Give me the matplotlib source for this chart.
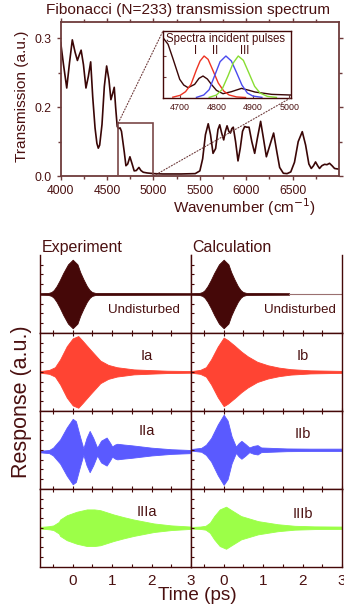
import numpy as np
import matplotlib
matplotlib.use('Agg')
import matplotlib.pyplot as plt
from matplotlib.patches import Rectangle, ConnectionPatch
from matplotlib.ticker import FixedLocator

plt.rcParams['font.family'] = ['Liberation Sans', 'DejaVu Sans']

TXT = '#4a1010'
SPINE = '#6e3b3b'
DARK = '#450808'
RED = '#ff4433'
BLUE = '#5a5aff'
GREEN = '#9cff48'

# transmission spectrum (wavenumber cm-1, transmission a.u.)
wn = [4000, 4030, 4065, 4095, 4125, 4155, 4180, 4200, 4220, 4245, 4272, 4298, 4323,
      4345, 4370, 4390, 4405, 4420, 4445, 4470, 4495, 4520, 4541, 4560, 4577, 4592,
      4609, 4625, 4640, 4655, 4670, 4685, 4703, 4722, 4746, 4770, 4792, 4815, 4843,
      4865, 4890, 4930, 5000, 5100, 5300, 5450, 5500, 5530, 5560, 5590, 5615, 5642,
      5670, 5695, 5714, 5735, 5757, 5775, 5793, 5812, 5829, 5845, 5860, 5885, 5911,
      5935, 5960, 5983, 6005, 6030, 6060, 6091, 6120, 6155, 6185, 6217, 6255, 6295,
      6330, 6360, 6400, 6440, 6480, 6520, 6560, 6604, 6640, 6675, 6701, 6725, 6747,
      6770, 6790, 6815, 6844, 6870, 6898, 6925, 6952, 6975, 7000]
trans = [0.294, 0.262, 0.228, 0.265, 0.298, 0.280, 0.268, 0.276, 0.283, 0.262, 0.228,
         0.245, 0.266, 0.215, 0.140, 0.095, 0.081, 0.090, 0.150, 0.230, 0.260, 0.240,
         0.211, 0.220, 0.229, 0.200, 0.144, 0.138, 0.140, 0.130, 0.100, 0.070, 0.030,
         0.035, 0.056, 0.035, 0.015, 0.016, 0.025, 0.016, 0.011, 0.009, 0.007, 0.006,
         0.006, 0.007, 0.015, 0.050, 0.120, 0.152, 0.120, 0.066, 0.080, 0.135, 0.149,
         0.125, 0.105, 0.130, 0.146, 0.130, 0.125, 0.138, 0.142, 0.100, 0.044, 0.080,
         0.130, 0.144, 0.142, 0.142, 0.100, 0.066, 0.110, 0.159, 0.110, 0.056, 0.090,
         0.125, 0.070, 0.025, 0.008, 0.007, 0.012, 0.040, 0.100, 0.129, 0.090, 0.035,
         0.022, 0.030, 0.041, 0.030, 0.022, 0.030, 0.034, 0.033, 0.037, 0.030, 0.022,
         0.021, 0.020]

# inset: spectra of incident pulses (normalised)
in_wn = [4653, 4667, 4681, 4699, 4710, 4722, 4740, 4752, 4763, 4775, 4786, 4800, 4818,
         4841, 4869, 4890, 4906, 4952, 5005]
in_tr = [0.90, 0.80, 0.575, 0.275, 0.19, 0.15, 0.20, 0.29, 0.325, 0.28, 0.20, 0.11, 0.06,
         0.09, 0.14, 0.11, 0.085, 0.05, 0.04]
p1_wn = [4680, 4700, 4715, 4730, 4745, 4755, 4766, 4777, 4791, 4805, 4820, 4835, 4855, 4880]
p1 = [0.008, 0.035, 0.09, 0.20, 0.42, 0.55, 0.625, 0.575, 0.40, 0.22, 0.10, 0.04, 0.012, 0.003]
p2_wn = [4745, 4765, 4780, 4795, 4810, 4826, 4841, 4855, 4870, 4885, 4900, 4925]
p2 = [0.005, 0.04, 0.12, 0.33, 0.54, 0.625, 0.55, 0.38, 0.19, 0.07, 0.025, 0.005]
p3_wn = [4780, 4800, 4815, 4832, 4846, 4860, 4874, 4890, 4905, 4920, 4940, 4965]
p3 = [0.005, 0.04, 0.12, 0.33, 0.52, 0.625, 0.56, 0.36, 0.17, 0.07, 0.02, 0.004]

# time-domain envelopes (ps, amplitude)
t_und = [-0.83, -0.62, -0.54, -0.48, -0.41, -0.33, -0.24, -0.12, 0.0, 0.12, 0.19, 0.27,
         0.36, 0.43, 0.49, 0.58, 3.0]
a_und = [0.02, 0.025, 0.05, 0.10, 0.20, 0.35, 0.54, 0.76, 0.88, 0.76, 0.56, 0.38, 0.20,
         0.10, 0.05, 0.025, 0.02]
t_und_calc = [-0.83, -0.62, -0.54, -0.48, -0.41, -0.33, -0.24, -0.12, 0.0, 0.12, 0.19, 0.27,
              0.36, 0.43, 0.49, 0.58, 1.66]
a_und_calc = [0.02, 0.025, 0.05, 0.10, 0.20, 0.35, 0.54, 0.76, 0.88, 0.76, 0.56, 0.38, 0.20,
              0.10, 0.05, 0.025, 0.02]
t_ia = [-0.83, -0.6, -0.45, -0.32, -0.15, 0.0, 0.14, 0.25, 0.44, 0.7, 0.9, 1.12, 1.55, 2.0, 2.4, 3.0]
a_ia = [0.02, 0.05, 0.12, 0.32, 0.66, 0.86, 0.92, 0.80, 0.58, 0.29, 0.18, 0.12, 0.064, 0.045, 0.03, 0.022]
t_ib = [-0.83, -0.6, -0.45, -0.32, -0.15, 0.0, 0.1, 0.27, 0.45, 0.61, 0.85, 1.12, 1.4, 1.7, 2.2, 3.0]
a_ib = [0.02, 0.05, 0.12, 0.32, 0.65, 0.88, 0.82, 0.68, 0.52, 0.40, 0.26, 0.17, 0.11, 0.07, 0.04, 0.025]
t_iia = [-0.83, -0.6, -0.5, -0.32, -0.15, 0.0, 0.08, 0.18, 0.27, 0.35, 0.43, 0.52, 0.62, 0.72,
         0.86, 0.95, 1.0, 1.07, 1.13, 1.3, 1.5, 2.0, 2.5, 3.0]
a_iia = [0.02, 0.04, 0.10, 0.31, 0.62, 0.84, 0.78, 0.40, 0.08, 0.35, 0.53, 0.35, 0.10, 0.28,
         0.36, 0.22, 0.13, 0.18, 0.20, 0.18, 0.16, 0.10, 0.06, 0.04]
t_iib = [-0.83, -0.57, -0.45, -0.32, -0.15, 0.0, 0.1, 0.2, 0.31, 0.38, 0.45, 0.55, 0.65, 0.75,
         0.86, 0.95, 1.2, 1.6, 2.2, 3.0]
a_iib = [0.02, 0.05, 0.13, 0.30, 0.65, 0.90, 0.75, 0.35, 0.08, 0.17, 0.23, 0.15, 0.06, 0.10,
         0.12, 0.06, 0.05, 0.035, 0.03, 0.03]
t_iiia = [-0.83, -0.6, -0.49, -0.35, -0.32, -0.15, 0.1, 0.36, 0.55, 0.7, 1.04, 1.3, 1.55, 2.06, 2.5, 3.0]
a_iiia = [0.02, 0.04, 0.06, 0.15, 0.21, 0.32, 0.41, 0.47, 0.47, 0.45, 0.34, 0.27, 0.21, 0.11, 0.06, 0.03]
t_iiib = [-0.83, -0.6, -0.46, -0.35, -0.24, -0.1, 0.06, 0.2, 0.44, 0.87, 1.37, 1.8, 2.3, 3.0]
a_iiib = [0.02, 0.03, 0.05, 0.13, 0.30, 0.47, 0.54, 0.45, 0.30, 0.17, 0.09, 0.05, 0.035, 0.03]

fig = plt.figure(figsize=(3.44, 6.07), dpi=100)

# ---------------- top: transmission spectrum ----------------
ax = fig.add_axes([0.1765, 0.710, 0.809, 0.2538])
fwd = lambda y: np.where(y <= 0.2, y / 2, y - 0.1)
inv = lambda u: np.where(u <= 0.1, 2 * u, u + 0.1)
ax.set_yscale('function', functions=(fwd, inv))
ax.plot(wn, trans, color='#3a0606', lw=1.2, solid_joinstyle='round')
ax.set_xlim(4000, 7000)
ax.set_ylim(0, 0.324)
ax.set_xticks([4000, 4500, 5000, 5500, 6000, 6500])
ax.xaxis.set_minor_locator(FixedLocator([4250, 4750, 5250, 5750, 6250, 6750]))
ax.set_yticks([0.0, 0.2, 0.3])
ax.set_yticklabels(['0.0', '0.2', '0.3'])
ax.yaxis.set_minor_locator(FixedLocator([0.1, 0.25]))
ax.tick_params(which='both', direction='out', color=SPINE, labelcolor=TXT, labelsize=8.7,
               length=3, width=1, top=True, right=True)
ax.tick_params(which='minor', length=2)
for s in ax.spines.values():
    s.set_color(SPINE)
    s.set_linewidth(1.3)
fig.text(187.5 / 344, 1 - 10 / 607, 'Fibonacci (N=233) transmission spectrum', ha='center',
         va='center', fontsize=11.1, color=TXT)
fig.text(22 / 344, 1 - 96 / 607, 'Transmission (a.u.)', rotation=90, ha='center', va='center',
         fontsize=11.1, color=TXT)
fig.text(244 / 344, 1 - 207 / 607, 'Wavenumber (cm$^{-1}$)', ha='center', va='center',
         fontsize=11, color=TXT)

box = Rectangle((4620, 0), 380, 0.154, fill=False, ec='#7a4848', lw=1.2, zorder=3)
ax.add_patch(box)

axin = fig.add_axes([163 / 344, 1 - 97.7 / 607, 128 / 344, 66.7 / 607])
axin.plot(in_wn, in_tr, color='#3a0606', lw=1)
axin.plot(p1_wn, p1, color='#ee3322', lw=1)
axin.plot(p2_wn, p2, color='#4a4aee', lw=1)
axin.plot(p3_wn, p3, color='#88dd33', lw=1)
axin.set_xlim(4653, 5005)
axin.set_ylim(0, 1)
axin.set_xticks([4700, 4800, 4900, 5000])
axin.set_yticks([0.31, 0.62])
axin.set_yticklabels([])
axin.tick_params(direction='in', length=2, color=SPINE, labelcolor=TXT, labelsize=6.4, pad=3.5)
for s in axin.spines.values():
    s.set_color(DARK)
    s.set_linewidth(1)
axin.text(0.492, 0.876, 'Spectra incident pulses', transform=axin.transAxes, ha='center',
          va='center', fontsize=8.3, color=TXT)
for lab, xf in [('I', 0.258), ('II', 0.404), ('III', 0.64)]:
    axin.text(xf, 0.70, lab, transform=axin.transAxes, ha='center', va='center',
              fontsize=8.3, color=TXT)

for xyA, xyB in [((4620, 0.154), (0, 1)), ((5000, 0.0), (1, 0))]:
    con = ConnectionPatch(xyA=xyA, coordsA=ax.transData, xyB=xyB, coordsB=axin.transAxes,
                          color='#6e3b3b', lw=0.8, linestyle=':')
    fig.add_artist(con)

# ---------------- bottom: time-domain responses ----------------
gs = fig.add_gridspec(4, 2, left=0.1163, right=0.994, bottom=0.0664, top=0.5799,
                      hspace=0, wspace=0)
rows = [
    (DARK, (t_und, a_und, 0.0, 'Undisturbed'), (t_und_calc, a_und_calc, 0.0, 'Undisturbed')),
    (RED, (t_ia, a_ia, 0.0, 'Ia'), (t_ib, a_ib, 0.0, 'Ib')),
    (BLUE, (t_iia, a_iia, -0.045, 'IIa'), (t_iib, a_iib, 0.0, 'IIb')),
    (GREEN, (t_iiia, a_iiia, 0.0, 'IIIa'), (t_iiib, a_iiib, 0.0, 'IIIb')),
]
for r, (col, left, right) in enumerate(rows):
    for c, (t, a, base, lab) in enumerate([left, right]):
        axb = fig.add_subplot(gs[r, c])
        t = np.array(t)
        a = np.array(a)
        axb.fill_between(t, base - a, base + a, color=col, lw=0.6, ec=col)
        if r == 0 and c == 1:
            axb.plot([t[-1], 3.0], [0, 0], color='#9a7070', lw=0.8)
        axb.set_xlim(-0.83, 3)
        axb.set_ylim(-1, 1)
        axb.set_xticks([0, 1, 2, 3])
        axb.xaxis.set_minor_locator(FixedLocator([-0.5, 0.5, 1.5, 2.5]))
        axb.set_yticks([-0.75, -0.5, -0.25, 0, 0.25, 0.5, 0.75])
        axb.set_yticklabels([])
        axb.tick_params(which='both', direction='in', length=2.5, width=0.8, color=DARK,
                        labelcolor=TXT, labelsize=11, top=(r > 0), right=False, pad=5)
        if r < 3:
            axb.set_xticklabels([])
        for s in axb.spines.values():
            s.set_color(DARK)
            s.set_linewidth(1)
        if r == 0:
            axb.spines['top'].set_visible(False)
        if c == 0:
            axb.spines['right'].set_color('#6e3b3b')
        if lab == 'Undisturbed':
            axb.text(0.69 if c == 0 else 0.72, 0.30, lab, transform=axb.transAxes,
                     ha='center', va='center', fontsize=9.6, color=TXT)
        else:
            ypos = {'Ia': 0.70, 'Ib': 0.70, 'IIa': 0.74, 'IIb': 0.70,
                    'IIIa': 0.70, 'IIIb': 0.68}[lab]
            axb.text(0.71 if c == 0 else 0.74, ypos, lab, transform=axb.transAxes,
                     ha='center', va='center', fontsize=10.5, color=TXT)
        if r == 0:
            axb.text(0.01, 1.0, 'Experiment' if c == 0 else 'Calculation',
                     transform=axb.transAxes, ha='left', va='bottom', fontsize=11.5, color=TXT)

fig.text(21.7 / 344, 1 - 401.5 / 607, 'Response (a.u.)', rotation=90, ha='center',
         va='center', fontsize=15.5, color=TXT)
fig.text(197.7 / 344, 1 - 595 / 607, 'Time (ps)', ha='center', va='center',
         fontsize=13.6, color=TXT)

fig.savefig('out.png', dpi=100)
